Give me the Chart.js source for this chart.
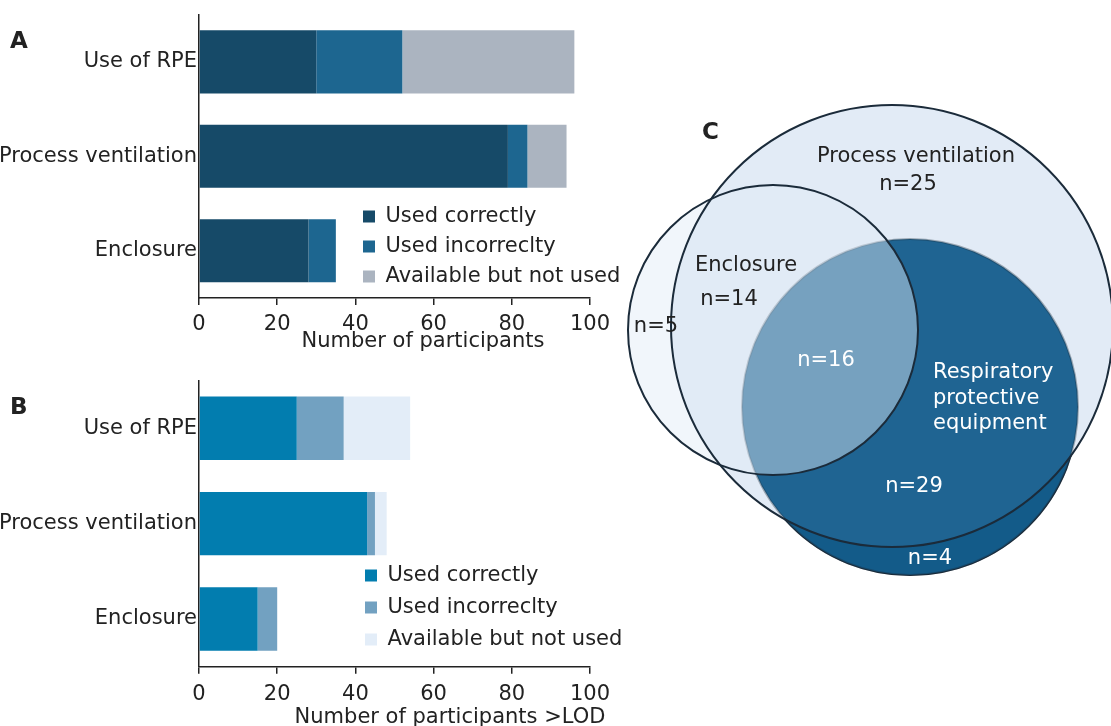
<!DOCTYPE html>
<html lang="en">
<head>
<meta charset="UTF-8">
<title>Use of control measures</title>
<script src="https://cdn.jsdelivr.net/npm/chart.js"></script>
<style>
  body { margin: 0; width: 1111px; height: 726px; background: #fff; position: relative; overflow: hidden; font-family: 'DejaVu Sans', sans-serif; color: #222; }
  canvas { position: absolute; }
  #chartA { left: 0; top: 0; }
  #chartB { left: 0; top: 366px; }
  #venn { left: 620px; top: 90px; }
  .panel { position: absolute; font-weight: bold; font-size: 23px; line-height: 1; }
  .axis-title { position: absolute; font-size: 21px; line-height: 1; white-space: nowrap; transform: translateX(-50%); }
</style>
</head>
<body>
  <canvas id="chartA" width="630" height="360"></canvas>
  <canvas id="chartB" width="630" height="360"></canvas>
  <canvas id="venn" width="491" height="500"></canvas>

  <div class="panel" style="left:10px; top:29px">A</div>
  <div class="panel" style="left:10px; top:395px">B</div>
  <div class="panel" style="left:702px; top:120px">C</div>
  <div class="axis-title" style="left:423px; top:330px">Number of participants</div>
  <div class="axis-title" style="left:450px; top:706px">Number of participants &gt;LOD</div>

  <script>
    // data
    const categories = ['Use of RPE', 'Process ventilation', 'Enclosure'];
    const seriesNames = ['Used correctly', 'Used incorreclty', 'Available but not used'];
    const xTicks = [0, 20, 40, 60, 80, 100];

    // A: all participants
    const allCorrect = [30, 79, 28];
    const allIncorrect = [22, 5, 7];
    const allUnused = [44, 10, 0];

    // B: participants >LOD
    const lodCorrect = [25, 43, 15];
    const lodIncorrect = [12, 2, 5];
    const lodUnused = [17, 3, 0];

    // C: venn region counts
    const vennRegions = ['Process ventilation only', 'Enclosure + ventilation', 'Enclosure only',
                         'All three', 'RPE + ventilation', 'RPE only'];
    const vennCounts = [25, 14, 5, 16, 29, 4];

    const FONT = "'DejaVu Sans', sans-serif";
    const INK = '#222';
    const EDGE = '#1b2b3a';
    Chart.defaults.font.family = FONT;

    // puts the legend inside the plot, lower right
    const legendSpot = {
      id: 'legendSpot',
      afterLayout(chart, args, opts) {
        const lg = chart.legend;
        if (!lg) return;
        lg.left = opts.x;
        lg.top = opts.y;
        lg.right = chart.width;
        lg.bottom = chart.height;
      }
    };

    const barChart = (id, sets, colors, box) => new Chart(document.getElementById(id), {
      type: 'bar',
      data: {
        labels: categories,
        datasets: sets.map((d, i) => ({
          label: seriesNames[i],
          data: d,
          backgroundColor: colors[i],
          borderWidth: 0,
          barPercentage: box.bar,
          categoryPercentage: 1
        }))
      },
      options: {
        indexAxis: 'y',
        responsive: false,
        animation: false,
        events: [],
        layout: { padding: { top: box.top, right: 40, left: 0, bottom: 0 } },
        scales: {
          x: {
            stacked: true, min: 0, max: 100,
            afterBuildTicks: s => { s.ticks = xTicks.map(v => ({ value: v })); },
            afterFit: s => { s.height = box.axisH; },
            grid: { drawOnChartArea: false, tickLength: 7, color: INK, lineWidth: 1.5 },
            border: { color: INK, width: 1.5 },
            ticks: { font: { size: 21 }, color: INK, padding: box.tickPad, maxRotation: 0 }
          },
          y: {
            stacked: true,
            afterFit: s => { s.width = 199; },
            grid: { display: false, drawTicks: false },
            border: { color: INK, width: 1.5 },
            ticks: { font: { size: 21 }, color: INK, padding: 2 }
          }
        },
        plugins: {
          legend: {
            position: 'chartArea',
            align: 'start',
            labels: { boxWidth: 12, boxHeight: 12, padding: box.gap, font: { size: 21 }, color: INK }
          },
          tooltip: { enabled: false },
          legendSpot: { x: 354, y: box.legendTop }
        }
      },
      plugins: [legendSpot]
    });

    barChart('chartA', [allCorrect, allIncorrect, allUnused],
      ['#164a68', '#1d6690', '#abb4c0'],
      { top: 12, axisH: 62, bar: 0.668, gap: 9, legendTop: 197, tickPad: 7 });

    barChart('chartB', [lodCorrect, lodIncorrect, lodUnused],
      ['#027daf', '#72a1c1', '#e3edf8'],
      { top: 9, axisH: 59.3, bar: 0.664, gap: 11, legendTop: 188, tickPad: 8 });

    // venn geometry, in the venn chart's own units
    const circles = {
      pv:  { x: 272, y: 236, r: 221 },
      enc: { x: 153, y: 240, r: 145 },
      rpe: { x: 290, y: 317, r: 168 }
    };

    const vennLabels = [
      { text: 'Process ventilation', x: 296, y: 67 },
      { text: 'n=' + vennCounts[0], x: 288, y: 95 },
      { text: 'Enclosure', x: 126, y: 176 },
      { text: 'n=' + vennCounts[1], x: 109, y: 210 },
      { text: 'n=' + vennCounts[2], x: 36, y: 237 },
      { text: 'n=' + vennCounts[3], x: 206, y: 271, light: true },
      { text: 'Respiratory', x: 313, y: 283, light: true, align: 'left' },
      { text: 'protective', x: 313, y: 309, light: true, align: 'left' },
      { text: 'equipment', x: 313, y: 334, light: true, align: 'left' },
      { text: 'n=' + vennCounts[4], x: 294, y: 397, light: true },
      { text: 'n=' + vennCounts[5], x: 310, y: 469, light: true }
    ];

    const vennText = {
      id: 'vennText',
      afterDatasetsDraw(chart) {
        const { ctx, scales: { x, y } } = chart;
        ctx.save();
        ctx.font = '21px ' + FONT;
        ctx.textBaseline = 'middle';
        vennLabels.forEach(l => {
          ctx.fillStyle = l.light ? '#fff' : INK;
          ctx.textAlign = l.align || 'center';
          ctx.fillText(l.text, x.getPixelForValue(l.x), y.getPixelForValue(l.y));
        });
        ctx.restore();
      }
    };

    const ring = (c, fill, stroke, order) => ({
      data: [c], backgroundColor: fill, borderColor: stroke,
      borderWidth: stroke ? 2 : 0, hoverRadius: 0, clip: false, order
    });

    new Chart(document.getElementById('venn'), {
      type: 'bubble',
      data: {
        datasets: [
          ring(circles.rpe, '#0f3a5a', EDGE, 6),                    // dark rim under the ventilation circle
          ring(circles.pv, '#e2ebf6', null, 5),
          ring(circles.rpe, 'rgba(20,93,140,0.95)', 'rgba(27,43,58,0.35)', 4),
          ring(circles.enc, 'rgba(225,235,247,0.45)', EDGE, 3),
          ring(circles.pv, 'rgba(0,0,0,0)', EDGE, 2)
        ]
      },
      options: {
        responsive: false,
        animation: false,
        events: [],
        layout: { padding: 0, autoPadding: false },
        scales: {
          x: { type: 'linear', min: 0, max: 491, display: false },
          y: { type: 'linear', min: 0, max: 500, reverse: true, display: false }
        },
        plugins: { legend: { display: false }, tooltip: { enabled: false } }
      },
      plugins: [vennText]
    });
  </script>
</body>
</html>
